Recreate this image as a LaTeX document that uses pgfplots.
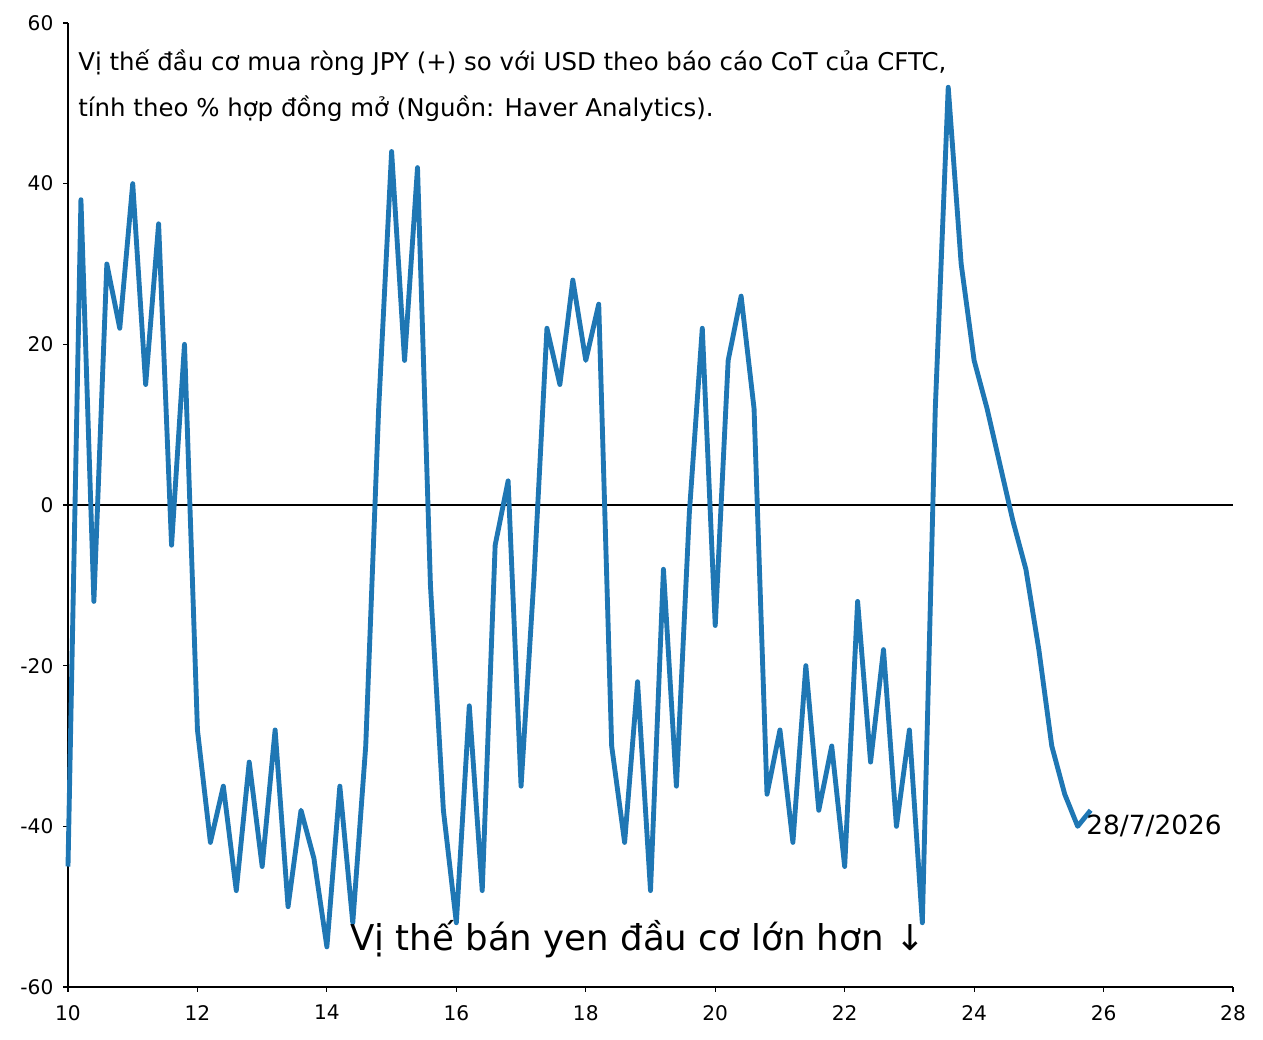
\documentclass[border=0pt]{standalone}
\usepackage{fontspec}
\setmainfont{DejaVu Sans}
\usepackage{pgfplots}
\pgfplotsset{compat=1.18}
\definecolor{tabblue}{HTML}{1F77B4}
\begin{document}
\begin{tikzpicture}
\path[use as bounding box] (-48.96pt,-37.44pt) rectangle (860.4pt,710.64pt);
\begin{axis}[
  at={(0,0)}, anchor=south west,
  width=838.8pt, height=694.08pt, scale only axis,
  xmin=10, xmax=28, ymin=-60, ymax=60,
  axis x line=bottom, axis y line=left,
  axis line style={-, line width=0.8pt, black},
  tick align=outside,
  major tick length=3.5pt,
  every tick/.style={black, line width=0.8pt},
  xtick={10,12,14,16,18,20,22,24,26,28},
  xticklabels={10,12,14,16,18,20,22,24,26,28},
  ytick={-60,-40,-20,0,20,40,60},
  yticklabels={-60,-40,-20,0,20,40,60},
  tick label style={font=\fontsize{14.5}{16}\selectfont},
  xticklabel style={yshift=-6pt},
  yticklabel style={xshift=-3.5pt},
  clip=false,
]
\draw[black, line width=1pt] (axis cs:10,0) -- (axis cs:28,0);
\addplot[color=tabblue, line width=3.5pt, line join=round, mark=none] coordinates {
(10.0,-45) (10.2,38) (10.4,-12) (10.6,30) (10.8,22) (11.0,40) (11.2,15) (11.4,35) (11.6,-5) (11.8,20)
(12.0,-28) (12.2,-42) (12.4,-35) (12.6,-48) (12.8,-32) (13.0,-45) (13.2,-28) (13.4,-50) (13.6,-38) (13.8,-44)
(14.0,-55) (14.2,-35) (14.4,-52) (14.6,-30) (14.8,12) (15.0,44) (15.2,18) (15.4,42) (15.6,-10) (15.8,-38)
(16.0,-52) (16.2,-25) (16.4,-48) (16.6,-5) (16.8,3) (17.0,-35) (17.2,-9) (17.4,22) (17.6,15) (17.8,28)
(18.0,18) (18.2,25) (18.4,-30) (18.6,-42) (18.8,-22) (19.0,-48) (19.2,-8) (19.4,-35) (19.6,-1) (19.8,22)
(20.0,-15) (20.2,18) (20.4,26) (20.6,12) (20.8,-36) (21.0,-28) (21.2,-42) (21.4,-20) (21.6,-38) (21.8,-30)
(22.0,-45) (22.2,-12) (22.4,-32) (22.6,-18) (22.8,-40) (23.0,-28) (23.2,-52) (23.4,12) (23.6,52) (23.8,30)
(24.0,18) (24.2,12) (24.4,5) (24.6,-2) (24.8,-8) (25.0,-18) (25.2,-30) (25.4,-36) (25.6,-40) (25.8,-38)
};
\node[anchor=base west, inner sep=0pt, font=\fontsize{17.6}{20}\selectfont] at (rel axis cs:0.0086,0.951) {Vị thế đầu cơ mua ròng JPY (+) so với USD theo báo cáo CoT của CFTC,};
\node[anchor=base west, inner sep=0pt, font=\fontsize{17.6}{20}\selectfont] at (rel axis cs:0.0086,0.9025) {tính theo \% hợp đồng mở (Nguồn: Haver Analytics).};
\node[anchor=west, inner sep=0pt, font=\fontsize{19}{22}\selectfont] at (axis cs:25.73,-40) {28/7/2026};
\node[anchor=base west, inner sep=0pt, font=\fontsize{25.6}{30}\selectfont] at (axis cs:14.36,-55.4) {Vị thế bán yen đầu cơ lớn hơn ↓};
\end{axis}
\end{tikzpicture}
\end{document}
